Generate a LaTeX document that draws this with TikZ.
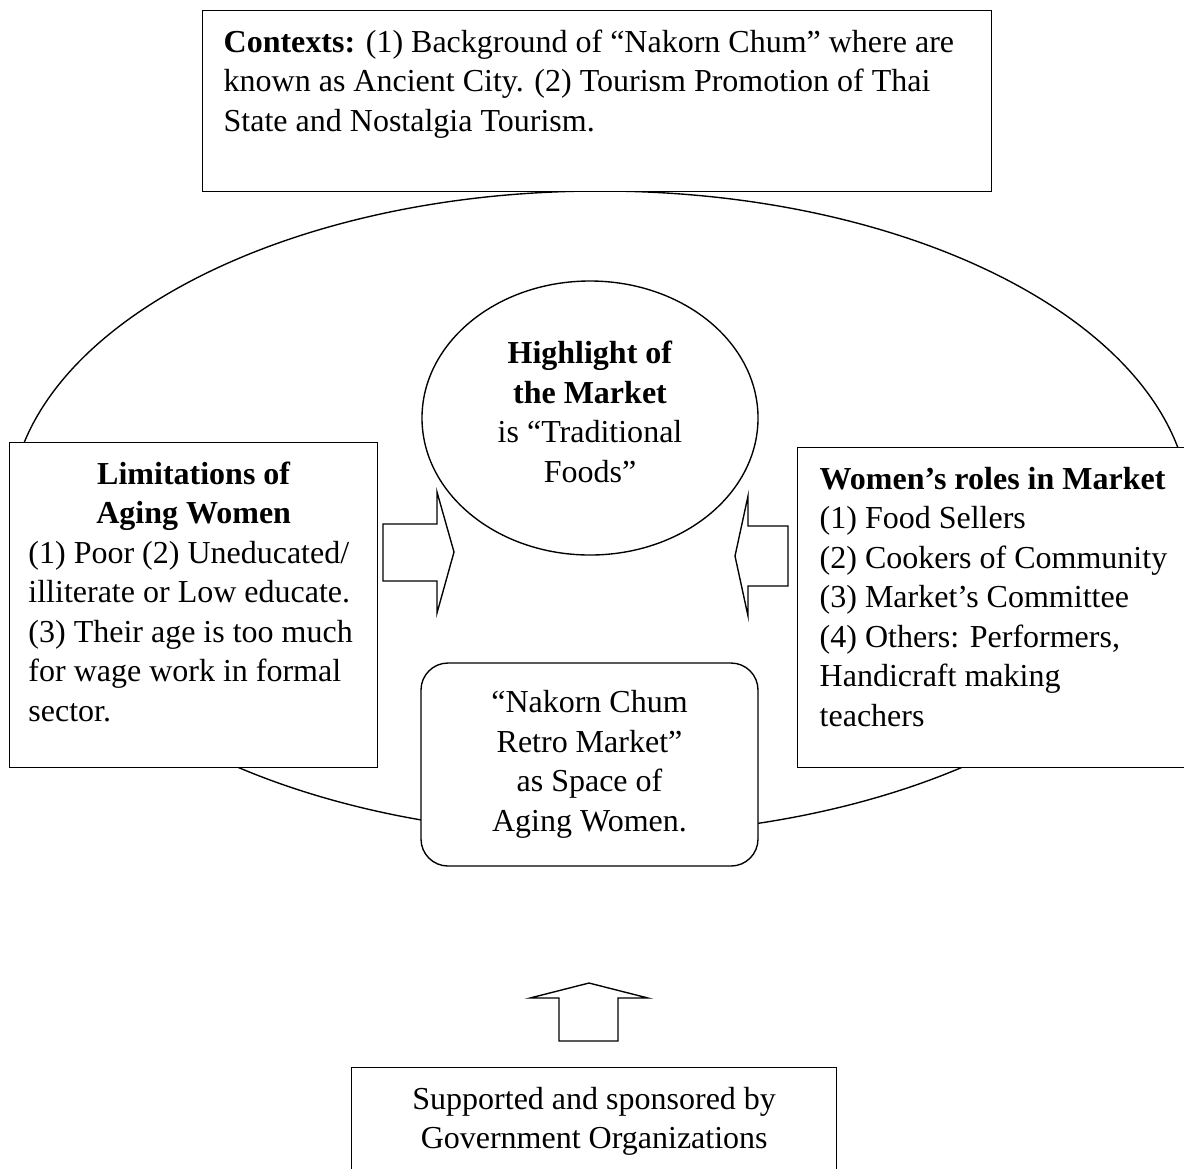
\documentclass[tikz,border=0pt]{standalone}
\usepackage{fontspec}
\setmainfont{Liberation Serif}
\usetikzlibrary{shapes.geometric}

% text block that sits at the top of a framed box
\newcommand{\paneltext}[3]{\begin{minipage}[t][#1][t]{#2}#3\end{minipage}}

\begin{document}
\begin{tikzpicture}[x=0.4pt, y=-0.4pt, line width=0.55pt,
    font=\fontsize{12.8}{15.8}\selectfont,
    panel/.style={draw, fill=white, rectangle, anchor=north west, inner ysep=5.6pt},
    oval/.style={draw, fill=white, ellipse, inner sep=0pt, align=center},
    blockarrow/.style={draw, fill=white}]
    \useasboundingbox (0,0) rectangle (1184,1168);

    % the big ring round the market
    \node[draw, ellipse, inner sep=0pt, minimum width=472pt, minimum height=257.6pt] (ring) at (600,513) {};

    % contexts on top
    \node[panel, inner xsep=8.4pt] (ctx) at (202,10) {\paneltext{61.2pt}{298.8pt}{\raggedright\strut\textbf{Contexts:} (1) Background of “Nakorn Chum” where are\\ known as Ancient City. (2) Tourism Promotion of Thai\\ State and Nostalgia Tourism.}};

    % centre of the ring
    \node[oval, minimum width=134.4pt, minimum height=109.6pt, text depth=5pt] (food) at (590,418) {\textbf{Highlight of}\\ \textbf{the Market}\\ is “Traditional\\ Foods”};
    \node[draw, fill=white, rounded corners=10.8pt, minimum width=134.8pt, minimum height=81.2pt, align=center] (space) at (589.5,764.5) {“Nakorn Chum\\ Retro Market”\\ as Space of\\ Aging Women.};

    % the two sides
    \node[panel, inner xsep=7.5pt] (limits) at (9,442) {\paneltext{118.8pt}{132.2pt}{{\centering\bfseries\strut Limitations of\\ Aging Women\par}\raggedright (1) Poor (2) Uneducated/\\ illiterate or Low educate.\\ (3) Their age is too much\\ for wage work in formal\\ sector.}};
    \node[panel, inner xsep=8.8pt] (roles) at (797,447) {\paneltext{116.8pt}{142.4pt}{\raggedright\strut\textbf{Women’s roles in Market}\\ (1) Food Sellers\\ (2) Cookers of Community\\ (3) Market’s Committee\\ (4) Others: Performers,\\ Handicraft making\\ teachers}};

    % support from below
    \node[panel, inner xsep=8.4pt] (gov) at (351,1067) {\paneltext{40.8pt}{177.2pt}{\centering\strut Supported and sponsored by\\ Government Organizations}};

    % block arrows
    \draw[blockarrow] (383,524) -- (437,524) -- (437,492) -- (454,552) -- (437,613) -- (437,581) -- (383,581) -- cycle;
    \draw[blockarrow] (788,526) -- (748,526) -- (748,496) -- (735,556) -- (748,616) -- (748,586) -- (788,586) -- cycle;
    \draw[blockarrow] (559,1041) -- (559,998) -- (530,998) -- (589,983) -- (648,998) -- (618,998) -- (618,1041) -- cycle;
\end{tikzpicture}
\end{document}
